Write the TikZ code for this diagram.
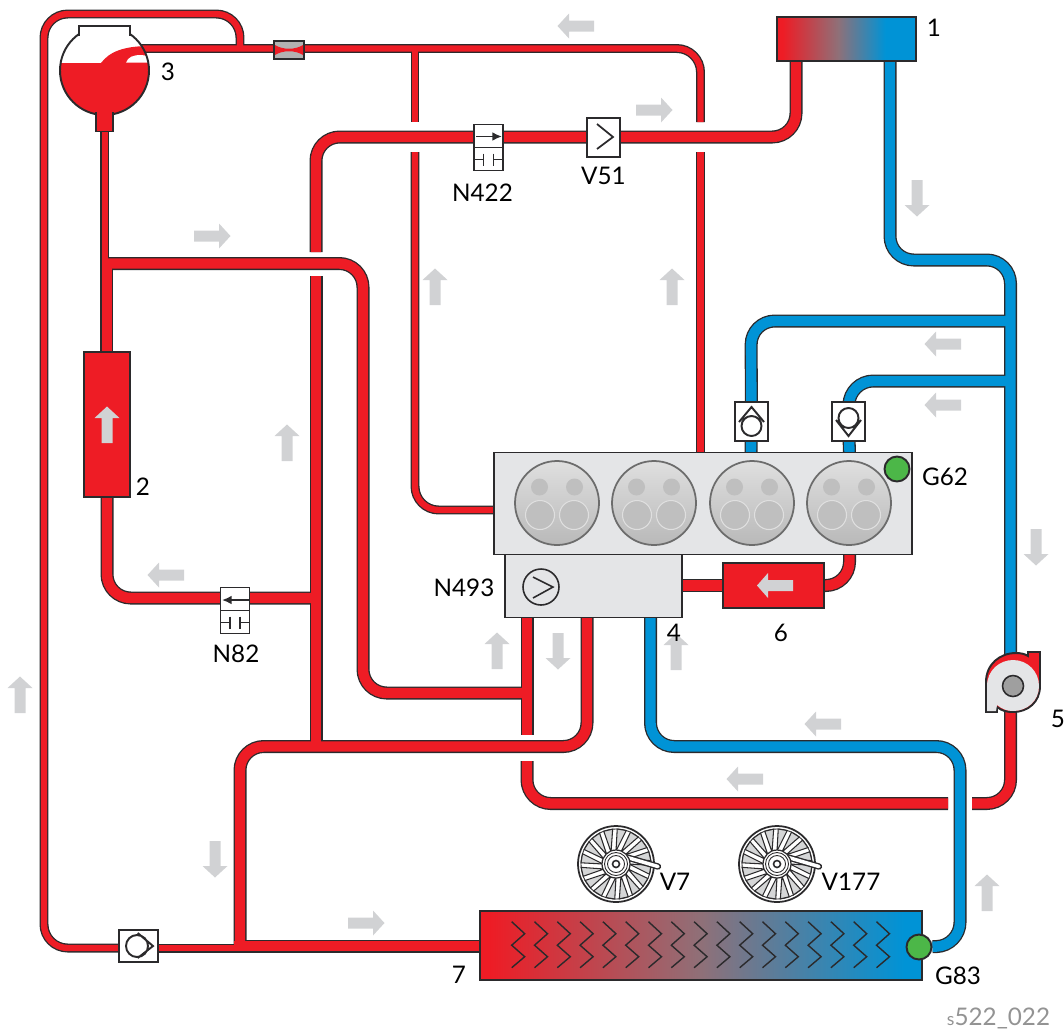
\documentclass[tikz,border=0pt]{standalone}
\usepackage{fontspec}
\setmainfont{Lato}
\usetikzlibrary{arrows.meta}
\definecolor{pipered}{HTML}{EE1C25}
\definecolor{pipeblue}{HTML}{0093D6}
\definecolor{edgedark}{HTML}{2B2A2C}
\definecolor{flowgray}{HTML}{D1D2D4}
\definecolor{bodygray}{HTML}{E4E5E7}
\definecolor{sensorgreen}{HTML}{4CB748}
\definecolor{midmix}{HTML}{8F7078}
\pgfdeclarehorizontalshading{hxshade}{100bp}{color(0bp)=(pipered); color(26bp)=(pipered); color(50bp)=(midmix); color(73bp)=(pipeblue); color(100bp)=(pipeblue)}
\pgfdeclarehorizontalshading{radshade}{100bp}{color(0bp)=(pipered); color(27bp)=(pipered); color(47bp)=(midmix); color(64bp)=(pipeblue); color(100bp)=(pipeblue)}
\pgfdeclarelayer{pipeedge}
\pgfdeclarelayer{pipefill}
\pgfsetlayers{pipeedge,pipefill,main}
\tikzset{
  partbox/.style={draw=edgedark,line width=1.1pt,inner sep=0pt,rectangle},
  label/.style={font=\fontsize{13.8}{15}\selectfont,inner sep=0pt},
  sensor/.style={circle,draw=edgedark,line width=1.1pt,fill=sensorgreen,minimum size=25*0.569pt,inner sep=0pt},
  symbol/.style={draw=edgedark,line width=0.9pt},
  valvebox/.style={partbox,fill=white},
}
\newcommand{\pipe}[3]{%
  \begin{pgfonlayer}{pipeedge}
    \draw[draw=edgedark,line width=#2pt,rounded corners=13.5pt] #3;
  \end{pgfonlayer}
  \begin{pgfonlayer}{pipefill}
    \draw[draw=#1,line width=#2pt-1.5pt,rounded corners=13.5pt] #3;
  \end{pgfonlayer}}
\newcommand{\flowarrow}[3]{%
  \fill[flowgray,shift={(#1,#2)},rotate=#3] (18,-5.5) -- (-7,-5.5) -- (-7,-12.5) -- (-18.5,0) -- (-7,12.5) -- (-7,5.5) -- (18,5.5) -- cycle;}
\newcommand{\cylinder}[1]{%
  \shade[top color=gray!25,bottom color=gray!55,draw=gray!85!black,line width=1pt] (#1,503) circle (42);
  \fill[gray!50] (#1-17.5,487) circle (8.5) (#1+17.5,487) circle (8.5);
  \filldraw[fill=gray!50,draw=gray!25,line width=0.6pt] (#1-17,515) circle (14.5) (#1+17,515) circle (14.5);}
\newcommand{\fanwheel}[2]{%
  \begin{scope}[shift={(#1,#2)}]
  \filldraw[fill=white,draw=edgedark,line width=1pt] (0,0) circle (38);
  \draw[edgedark,line width=0.5pt] (0,0) circle (35);
  \foreach \ang in {0,22.5,...,337.5}
    {\filldraw[fill=bodygray!85!gray,draw=edgedark,line width=0.6pt] (\ang:13) -- (\ang+2:35) -- (\ang+17:35) -- cycle;}
  \draw[edgedark,line width=3.6pt,line cap=round] (3,-9) -- (42,2.5);
  \draw[white,line width=2pt,line cap=round] (3,-9) -- (42,2.5);
  \filldraw[fill=white,draw=edgedark,line width=0.7pt] (0,0) circle (14);
  \draw[edgedark,line width=0.5pt] (0,0) circle (11.5) (0,0) circle (8.5);
  \draw[edgedark,line width=0.9pt] (0,0) circle (3.5);
  \end{scope}}
\newcommand{\solenoid}[3]{%
  \node[valvebox,minimum width=29*0.569pt,minimum height=46*0.569pt] (#1) at (#2,#3) {};
  \draw[edgedark,line width=1pt] (#2-14.5,#3) -- (#2+14.5,#3)
    (#2-14.5,#3+12) -- (#2-5,#3+12) (#2-5,#3+6) -- (#2-5,#3+18)
    (#2+14.5,#3+12) -- (#2+5,#3+12) (#2+5,#3+6) -- (#2+5,#3+18);}

\begin{document}
\begin{tikzpicture}[x=0.02cm,y=-0.02cm]
\useasboundingbox (0,0) rectangle (1064,1032);

% flow arrows
\foreach \ax/\ay/\ang in {576/26/0,654/110/180,212/236/180,366/923/180,943/344/0,943/405/0,166/575/0,823/724/0,745/779/0}
  {\flowarrow{\ax}{\ay}{\ang}}
\foreach \ax/\ay/\ang in {917/198/90,1036/547/90,558/651/90,215/859/90}
  {\flowarrow{\ax}{\ay}{\ang}}
\foreach \ax/\ay/\ang in {435/287/-90,672/287/-90,287/443/-90,497/651/-90,676/652/-90,20/695/-90,987/893/-90}
  {\flowarrow{\ax}{\ay}{\ang}}

% parts
\node[partbox,shading=radshade,minimum width=139*0.569pt,minimum height=44*0.569pt] (rad) at (846.5,39) {};
\node[partbox,fill=pipered,minimum width=46*0.569pt,minimum height=145*0.569pt] (cooler) at (107,424.5) {};
\flowarrow{107}{425}{-90}
\node[partbox,fill=bodygray,minimum width=418*0.569pt,minimum height=102*0.569pt] (engine) at (703,503.5) {};
\foreach \cx in {557,654,752,849}
  {\cylinder{\cx}}
\node[sensor] (gsixtytwo) at (897,469) {};
\node[partbox,fill=bodygray,minimum width=177*0.569pt,minimum height=63*0.569pt] (pumpbox) at (593.5,586) {};
\node[circle,symbol,minimum size=36*0.569pt,inner sep=0pt] (pumpwheel) at (541,587) {};
\draw[symbol] (533,577) -- (553,587) -- (533,598);
\node[partbox,fill=pipered,minimum width=101*0.569pt,minimum height=45*0.569pt] (oilcooler) at (773.5,585.5) {};
\fill[flowgray] (793,580) -- (768,580) -- (768,573) -- (757,585.5) -- (768,598) -- (768,591) -- (793,591) -- cycle;
\node[partbox,shading=hxshade,minimum width=442*0.569pt,minimum height=69*0.569pt] (exchanger) at (701,945.5) {};
\foreach \zx in {0,...,16}
  {\draw[edgedark,line width=0.8pt] (511.7+22.8*\zx,921.7) -- ++(13,12) -- ++(-13,11.5) -- ++(13,11.5) -- ++(-13,11);}
\node[sensor] (geightythree) at (919,947) {};

% tank
\coordinate (tankc) at (104.5,70.5);
\fill[white] (tankc) circle (44.5);
\begin{scope}
\clip (tankc) circle (44.5);
\fill[pipered] (50,62.5) rectangle (160,120);
\fill[pipered] (101,63) .. controls (110,51) and (125,46) .. (150,46) -- (150,63) -- cycle;
\fill[white] (126,62.7) .. controls (128,57) and (133,55) .. (141,55) -- (150,56) -- (150,62.7) -- cycle;
\end{scope}
\draw[edgedark,line width=1.1pt] (tankc) circle (44.5);
\fill[white] (80,27) rectangle (129,36);
\draw[edgedark,line width=1.1pt] (79,36) -- (79,26) -- (130,26) -- (130,36);
\filldraw[fill=pipered,draw=edgedark,line width=1.1pt] (96,112) -- (96,131.5) -- (113,131.5) -- (113,112);
\fill[pipered] (96.6,110) rectangle (112.4,114);

% valves
\solenoid{nfourtwotwo}{488.5}{147.5}
\draw[edgedark,line width=1pt,-{Latex[length=5.5pt,width=5pt]}] (476,136.5) -- (502,136.5);
\solenoid{neightytwo}{235}{610.5}
\draw[edgedark,line width=1pt,-{Latex[length=5.5pt,width=5pt]}] (249,600) -- (222,600);
\node[valvebox,minimum width=33*0.569pt,minimum height=39*0.569pt] (vfiftyone) at (603.5,137.5) {};
\draw[symbol,line width=1pt] (597,124) -- (613,137) -- (597,149);
\node[valvebox,minimum width=33*0.569pt,minimum height=39*0.569pt] (checkleft) at (751.5,421.5) {};
\draw[symbol,line width=1.1pt] (751.5,426) circle (10) (739,422) -- (751.5,407) -- (764,422);
\node[valvebox,minimum width=33*0.569pt,minimum height=39*0.569pt] (checkright) at (848.5,421.5) {};
\draw[symbol,line width=1.1pt] (848.5,418) circle (10) (836,420) -- (848.5,436) -- (861,420);
\node[valvebox,minimum width=39*0.569pt,minimum height=32*0.569pt] (checkbottom) at (138.5,946) {};
\draw[symbol,line width=1.1pt] (137,946) circle (11) (137.7,933) -- (153,946) -- (137.7,958);
\node[partbox,fill=gray!60,minimum width=30*0.569pt,minimum height=18*0.569pt] (throttle) at (289,50) {};
\fill[pipered] (275,45) .. controls (283,50) and (295,50) .. (303,45) -- (303,55) .. controls (295,50) and (283,50) .. (275,55) -- cycle;

% coolant pump
\coordinate (pumpc) at (1013,686);
\filldraw[fill=pipered,draw=edgedark,line width=1.1pt] (986,712) -- (986,682) .. controls (986,664) and (1000,653) .. (1016,653) .. controls (1021,653) and (1025,654) .. (1028,656) -- (1028,652) -- (1040,652) -- (1040,686) .. controls (1040,702) and (1028,712) .. (1013,712) .. controls (1007,712) and (1002,711) .. (997,707) -- (997,712) -- cycle;
\fill[bodygray] (987,711) -- (987,686) .. controls (987,670) and (1000,660) .. (1013,660) .. controls (1028,660) and (1039,672) .. (1039,686) .. controls (1039,701) and (1027,711) .. (1013,711) .. controls (1007,711) and (1002,709) .. (997,705) -- (996,711) -- cycle;
\filldraw[fill=gray!75,draw=edgedark,line width=0.9pt] (pumpc) circle (10.5);

% fans
\fanwheel{616}{864}
\fanwheel{777}{864}

% named pipe ends
\coordinate (radhot) at (796,61);
\coordinate (radcold) at (890,61);
\coordinate (tankout) at (140,48.5);
\coordinate (tankdrain) at (104.7,131);
\coordinate (tjoin) at (106.8,263.5);
\coordinate (coolertop) at (106.8,352);
\coordinate (coolerlow) at (107,497);
\coordinate (mainjoin) at (240,946);
\coordinate (bankjoin) at (316,746);
\coordinate (lowjoin) at (316,598);
\coordinate (teeleft) at (415,48.5);
\coordinate (teeloop) at (240,48.5);
\coordinate (pumphot) at (1010.5,710);
\coordinate (pumpcold) at (1010.5,660);
\coordinate (blueone) at (1010.5,321);
\coordinate (bluetwo) at (1010.5,381);

% hot side
\pipe{pipered}{5.1}{(checkbottom.center |- 0,948) -- (44,948) -- (44,14) -- (240,14) -- (teeloop)}
\pipe{pipered}{5.1}{(checkbottom.center |- 0,948) -- (240,948)}
\pipe{pipered}{5.1}{(tankout) -- (700.5,48.5) -- (700.5,122)}
\pipe{pipered}{5.1}{(700.5,152) -- (700.5,453)}
\pipe{pipered}{5.1}{(teeleft) -- (415,122)}
\pipe{pipered}{5.1}{(415,152) -- (415,510) -- (engine.west |- 0,510)}
\pipe{pipered}{5.1}{(tankdrain) -- (104.7,266)}
\pipe{pipered}{7.4}{(exchanger.west |- mainjoin) -- (234,946)}
\pipe{pipered}{7.4}{(240,950) -- (240,746.5) -- (587,746.5) -- (587,617)}
\pipe{pipered}{7.4}{(bankjoin) -- (316,276)}
\pipe{pipered}{7.4}{(316,252) -- (316,137) -- (796,137) -- (radhot)}
\pipe{pipered}{7.4}{(lowjoin) -- (107,598) -- (coolerlow)}
\pipe{pipered}{7.4}{(coolertop) -- (tjoin)}
\pipe{pipered}{7.4}{(tjoin) -- (363,263.5) -- (363,693) -- (527,693)}
\pipe{pipered}{7.4}{(527,617) -- (527,735)}
\pipe{pipered}{7.4}{(527,761) -- (527,803.5) -- (948,803.5)}
\pipe{pipered}{7.4}{(972,803.5) -- (1010.5,803.5) -- (pumphot)}
\pipe{pipered}{7.4}{(pumpbox.east |- oilcooler) -- (oilcooler)}
\pipe{pipered}{7.4}{(oilcooler) -- (849.5,585.5) -- (849.5,554)}

% cold side
\pipe{pipeblue}{7.4}{(radcold) -- (890,260) -- (1010.5,260) -- (pumpcold)}
\pipe{pipeblue}{7.4}{(blueone) -- (751,321) -- (checkleft)}
\pipe{pipeblue}{7.4}{(checkleft) -- (751,453)}
\pipe{pipeblue}{7.4}{(bluetwo) -- (849.5,381) -- (checkright)}
\pipe{pipeblue}{7.4}{(checkright) -- (849.5,453)}
\pipe{pipeblue}{7.4}{(650.5,617) -- (650.5,746.5) -- (960,746.5) -- (960,946) -- (geightythree)}

% labels
\node[label] (lone) at (934,28) {1};
\node[label] (ltwo) at (143,487) {2};
\node[label] (lthree) at (168,72) {3};
\node[label] (lfour) at (674,633) {4};
\node[label] (lfive) at (1058,719) {5};
\node[label] (lsix) at (781,633) {6};
\node[label] (lseven) at (459,975) {7};
\node[label] (ln422) at (482.5,192.5) {N422};
\node[label] (lv51) at (603.5,175.5) {V51};
\node[label] (lg62) at (945,477) {G62};
\node[label] (ln493) at (464,588) {N493};
\node[label] (ln82) at (236,653.5) {N82};
\node[label] (lv7) at (675,881.5) {V7};
\node[label] (lv177) at (851,881.5) {V177};
\node[label] (lg83) at (958,975.5) {G83};
\node[label,text=gray!85] (lcode) at (998.5,1018) {{\fontsize{10}{10}\selectfont s}522\_022};
\end{tikzpicture}
\end{document}
